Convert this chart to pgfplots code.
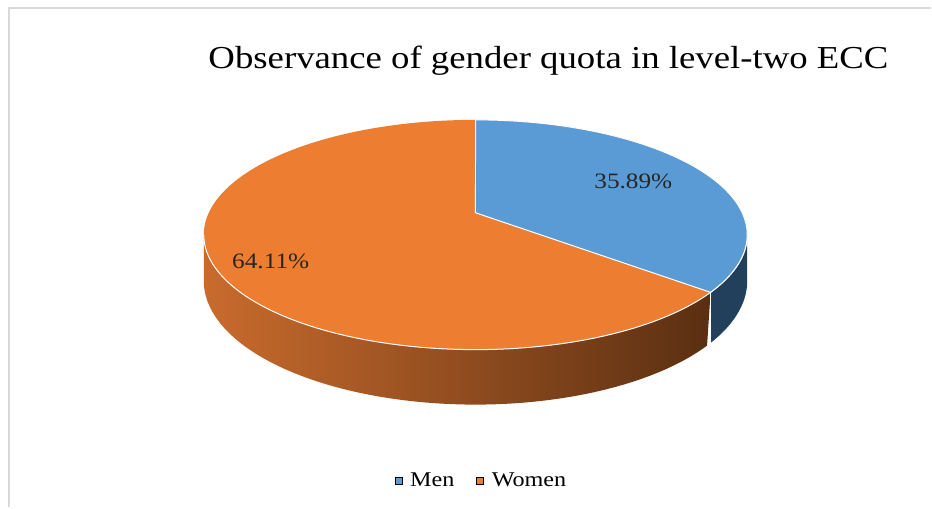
\documentclass[border=0pt]{standalone}
\usepackage{fontspec}
\setmainfont{Liberation Serif}[FakeStretch=1.15]
\usepackage{pgfplots}
\pgfplotsset{compat=1.18}
\usepackage{pgfplotstable}
\definecolor{menblue}{HTML}{5B9BD5}
\definecolor{womorange}{HTML}{ED7D31}
\definecolor{menside}{HTML}{22405B}
\definecolor{sideL}{HTML}{C96B2D}
\definecolor{sideM}{HTML}{8C4A1D}
\definecolor{sideR}{HTML}{5A2F12}
\definecolor{framegray}{HTML}{D9D9D9}

\pgfplotstableread{
label value
Men 35.89
Women 64.11
}\piedata
\pgfplotstablegetelem{0}{value}\of\piedata
\let\menval\pgfplotsretval
\pgfmathsetmacro\thM{90-3.6*\menval}
\pgfmathsetmacro\thMs{\thM+360}
\pgfmathsetmacro\thL{180+asin(0.1913)}
\pgfmathsetmacro\thR{360-asin(0.1913)}

\begin{document}
\begin{tikzpicture}
\begin{axis}[
  scale only axis, width=932pt, height=508pt,
  xmin=0, xmax=932, ymin=0, ymax=508,
  hide axis, clip=false,
  declare function={
    pw(\t)=1+0.1913*sin(\t);
    rimX(\t)=476+267*cos(\t)/pw(\t);
    rimY(\t)=295+110.8*sin(\t)/pw(\t);
    botY(\t)=rimY(\t)-44.5/pw(\t);
    sideT(\s,\a,\b)=ifthenelse(\s<=1,\a+(\b-\a)*\s,\b+(\a-\b)*(\s-1));
  },
  legend style={draw=none, fill=none, legend columns=2,
    font=\fontsize{21}{24}\selectfont,
    at={(axis cs:482,27)}, anchor=center,
    /tikz/every even column/.append style={column sep=20pt}},
  legend image code/.code={\fill[#1] (0pt,-3.5pt) rectangle (7pt,3.5pt); \path (13pt,0pt);},
]
\path (axis cs:0,0) rectangle (axis cs:932,508);
% frame
\draw[framegray, line width=2pt] (axis cs:9,0) -- (axis cs:9,500) -- (axis cs:932,500);

% side of Women slice
\addplot[forget plot, draw=none, left color=sideL, middle color=sideM, right color=sideR,
  domain=0:2, samples=201, variable=\s]
  ({rimX(sideT(\s,\thL,\thMs))},
   {ifthenelse(\s<=1, rimY(sideT(\s,\thL,\thMs)), botY(sideT(\s,\thL,\thMs)))});
% side of Men slice
\addplot[forget plot, draw=none, fill=menside,
  domain=0:2, samples=101, variable=\s]
  ({rimX(sideT(\s,\thMs,\thR))},
   {ifthenelse(\s<=1, rimY(sideT(\s,\thMs,\thR)), botY(sideT(\s,\thMs,\thR)))});
% edge between the two sides
\addplot[forget plot, white, line width=1pt, domain=0:1, samples=2, variable=\s]
  ({rimX(\thM)}, {rimY(\thM)-\s*44.5/pw(\thM)});

% top face: Women (whole ellipse) then Men wedge
\addplot[forget plot, fill=womorange, draw=none, domain=0:360, samples=240, variable=\t]
  ({rimX(\t)}, {rimY(\t)}) -- cycle;
\addplot[forget plot, white, line width=1pt, domain=\thL:\thR, samples=120, variable=\t]
  ({rimX(\t)}, {rimY(\t)});
\addplot[forget plot, fill=menblue, draw=white, line width=1pt, domain=\thM:90, samples=120, variable=\t]
  ({rimX(\t)}, {rimY(\t)}) -- (axis cs:476,295) -- cycle;

% data labels
\node[font=\fontsize{22}{26}\selectfont, text=black!85] at (axis cs:634,326) {35.89\%};
\node[font=\fontsize{22}{26}\selectfont, text=black!85] at (axis cs:271,246) {64.11\%};

% title
\node[anchor=base, font=\fontsize{32}{38}\selectfont] at (axis cs:549,439)
  {Observance of gender quota in level-two ECC};

\addlegendimage{fill=menblue}
\addlegendentry{Men}
\addlegendimage{fill=womorange}
\addlegendentry{Women}
\end{axis}
\end{tikzpicture}
\end{document}
